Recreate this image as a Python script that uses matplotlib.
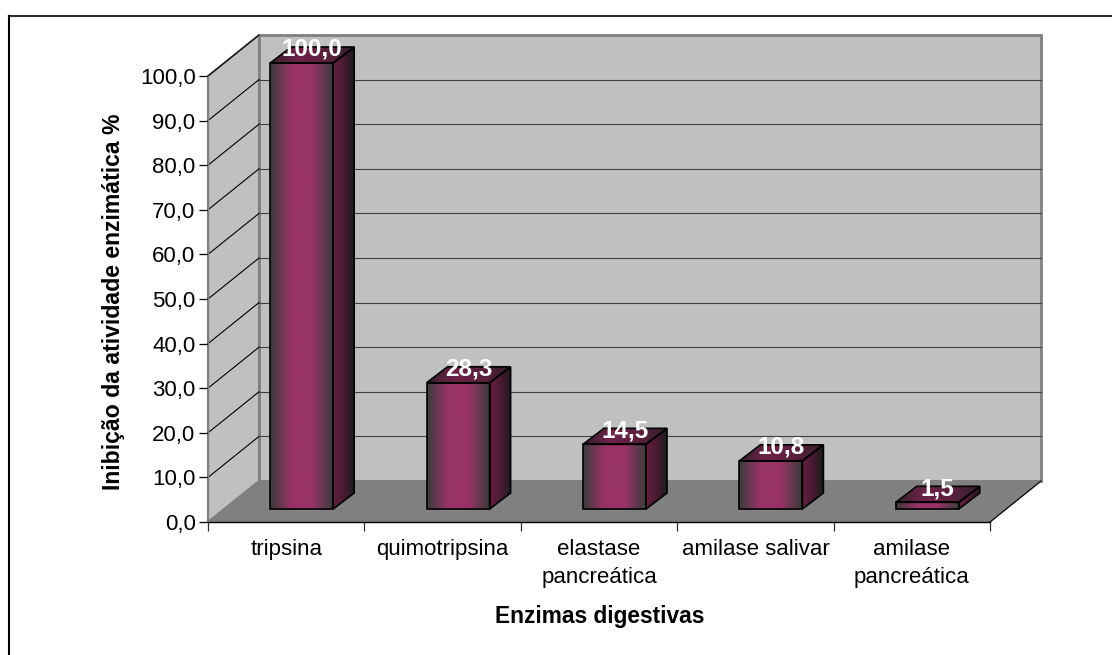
import matplotlib
matplotlib.use('Agg')
import matplotlib.pyplot as plt
from matplotlib.colors import LinearSegmentedColormap
from matplotlib.patches import Polygon
import numpy as np

plt.rcParams['font.family'] = ['Liberation Sans', 'DejaVu Sans']

# values
enzimas = ['tripsina', 'quimotripsina', 'elastase\npancreática',
           'amilase salivar', 'amilase\npancreática']
inibicao = [100.0, 28.3, 14.5, 10.8, 1.5]
rotulos = ['100,0', '28,3', '14,5', '10,8', '1,5']
yticks = [0, 10, 20, 30, 40, 50, 60, 70, 80, 90, 100]

W, H = 1112, 655
fig = plt.figure(figsize=(W / 100, H / 100), dpi=100)

# front plane of the box is the real axes, all depth offsets are in data units
x0, x1, y0, y1 = 208, 990, 522, 76
ax = fig.add_axes([x0 / W, 1 - y0 / H, (x1 - x0) / W, (y0 - y1) / H])
ax.set_xlim(0, 5)
ax.set_ylim(0, 100)
ax.patch.set_visible(False)

px = 5 / (x1 - x0)
py = 100 / (y0 - y1)
dx_box, dy_box = 51 * px, 41 * py
dx_bar, dy_bar = 21 * px, 16 * py
off_x, off_y = 15.5 * px, 13 * py
larg = 63 * px

# side wall, back wall, floor
ax.add_patch(Polygon([(0, 0), (0, 100), (dx_box, 100 + dy_box), (dx_box, dy_box)],
                     closed=True, fc='#c0c0c0', ec='#808080', lw=1.5, clip_on=False, zorder=1))
ax.add_patch(Polygon([(dx_box, dy_box), (dx_box, 100 + dy_box), (5 + dx_box, 100 + dy_box), (5 + dx_box, dy_box)],
                     closed=True, fc='#c0c0c0', ec='#808080', lw=2, clip_on=False, zorder=1))
ax.add_patch(Polygon([(0, 0), (dx_box, dy_box), (5 + dx_box, dy_box), (5, 0)],
                     closed=True, fc='#808080', ec='#808080', lw=1, clip_on=False, zorder=1.5))

# grid
for v in yticks[1:]:
    ax.plot([0, dx_box], [v, v + dy_box], color='black', lw=0.8, clip_on=False, zorder=2)
    if v < 100:
        ax.plot([dx_box, 5 + dx_box], [v + dy_box, v + dy_box], color='#404040', lw=0.8, clip_on=False, zorder=2)
ax.plot([5, 5 + dx_box], [0, dy_box], color='black', lw=0.8, clip_on=False, zorder=2)

frente = LinearSegmentedColormap.from_list('frente', ['#3c3c3c', '#993366', '#993366', '#3c3c3c'])
lado = LinearSegmentedColormap.from_list('lado', ['#66203f', '#4a1a33', '#1c1c1c'])
topo = LinearSegmentedColormap.from_list('topo', ['#3a2030', '#6b2347', '#5a1f3d', '#33202b'])
grad = np.linspace(0, 1, 128).reshape(1, -1)


def face(pts, cmap, z):
    xs = [p[0] for p in pts]
    ys = [p[1] for p in pts]
    im = ax.imshow(grad, cmap=cmap, extent=[min(xs), max(xs), min(ys), max(ys)],
                   aspect='auto', zorder=z, interpolation='bilinear')
    poly = Polygon(pts, closed=True, fc='none', ec='black', lw=1.2, clip_on=False, zorder=z + 0.1)
    ax.add_patch(poly)
    im.set_clip_path(poly)
    im.set_clip_box(fig.bbox)


for i, v in enumerate(inibicao):
    a = i + 0.5 + off_x - larg / 2
    b = a + larg
    z = 3 + i
    base = off_y
    face([(a, base), (b, base), (b, base + v), (a, base + v)], frente, z)
    face([(b, base), (b + dx_bar, base + dy_bar), (b + dx_bar, base + v + dy_bar), (b, base + v)], lado, z)
    face([(a, base + v), (b, base + v), (b + dx_bar, base + v + dy_bar), (a + dx_bar, base + v + dy_bar)], topo, z)
    ax.text(i + 0.5 + off_x + dx_bar / 2, base + v + dy_bar / 2 + 1.3, rotulos[i], color='white',
            fontsize=17.5, fontweight='bold', ha='center', va='center', zorder=20, clip_on=False)

ax.set_xlim(0, 5)
ax.set_ylim(0, 100)

for s in ['top', 'right']:
    ax.spines[s].set_visible(False)
for s in ['left', 'bottom']:
    ax.spines[s].set_color('black')
    ax.spines[s].set_linewidth(1)
    ax.spines[s].set_zorder(2)
ax.spines['left'].set_color('#808080')

ax.set_yticks(yticks)
ax.set_yticklabels(['%d,0' % t for t in yticks], fontsize=16, va='center_baseline')
ax.set_xticks(range(6))
ax.set_xticklabels([])
ax.set_xticks(np.arange(5) + 0.5, labels=enzimas, minor=True, fontsize=16, linespacing=1.4)
ax.tick_params(axis='x', which='minor', length=0, pad=12.5)
ax.tick_params(axis='x', which='major', length=6.5, width=0.9, color='#303030')
ax.tick_params(axis='y', length=6.5, width=0.9, pad=2.5)

fig.text(600 / W, 1 - 616 / H, 'Enzimas digestivas', fontsize=16.4, fontweight='bold', ha='center', va='center')
fig.text(114 / W, 1 - 302 / H, 'Inibição da atividade enzimática %', fontsize=16.6, fontweight='bold',
         rotation=90, ha='center', va='center')

# outer frame only shows on the top and left
fig.add_artist(plt.Line2D([8.5 / W, 1], [1 - 15.5 / H, 1 - 15.5 / H], color='#303030', lw=1.5))
fig.add_artist(plt.Line2D([8.5 / W, 8.5 / W], [0, 1 - 15.5 / H], color='black', lw=1.5))

fig.savefig('out.png', dpi=100)
